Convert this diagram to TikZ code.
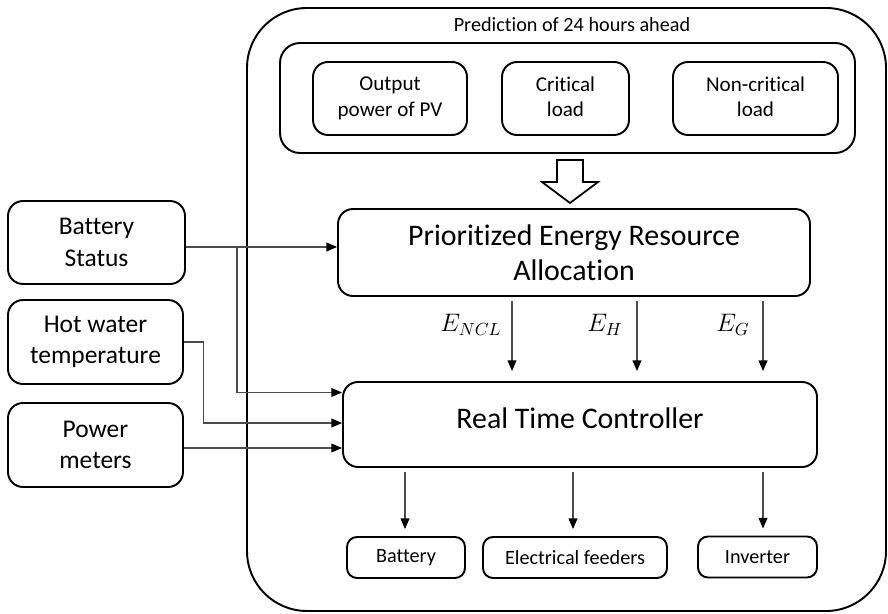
\documentclass[tikz,border=0pt]{standalone}
\usepackage{fontspec}
\setmainfont{Carlito}[Ligatures=NoCommon]
\usetikzlibrary{arrows.meta}
\begin{document}
\begin{tikzpicture}[
    box/.style = {draw, line width=1.1pt, rounded corners=0.3cm, align=center, inner sep=0pt},
    arr/.style = {draw=black!70, line width=0.6pt, -{Triangle[length=6pt,width=5pt,color=black]}}
  ]
    \useasboundingbox (0,0) rectangle (17.76,-12.28);
    \begin{scope}
      \def\radius{1.2cm}
      \node[box, rounded corners=\radius, minimum width=12.78cm, minimum height=12.06cm] (outer) at (11.33,-6.19) {};
      \node[font=\fontsize{11.5}{14}\selectfont] (title) at (11.44,-0.5) {Prediction of 24 hours ahead};
      \node[box, rounded corners=0.4cm, minimum width=11.5cm, minimum height=2.2cm] (pred) at (11.35,-1.96) {};
      \node[box, minimum width=3.08cm, minimum height=1.46cm, font=\fontsize{12}{14.5}\selectfont] (pv) at (7.8,-1.97) {Output\\power of PV};
      \node[box, minimum width=2.54cm, minimum height=1.46cm, font=\fontsize{12}{14.5}\selectfont, text depth=0.08cm] (crit) at (11.31,-1.97) {Critical\\load};
      \node[box, minimum width=3.3cm, minimum height=1.46cm, font=\fontsize{12}{14.5}\selectfont, text depth=0.08cm] (noncrit) at (15.11,-1.97) {Non-critical\\load};
    \end{scope}
    \draw[line width=1pt, fill=white] (11.14,-3.2) -- (11.66,-3.2) -- (11.66,-3.64) -- (11.96,-3.64)
      -- (11.4,-4.06) -- (10.84,-3.64) -- (11.14,-3.64) -- cycle;
    \node[box, minimum width=9.44cm, minimum height=1.74cm, font=\fontsize{17}{20}\selectfont] (pera) at (11.48,-5.05) {Prioritized Energy Resource\\Allocation};
    \node[box, minimum width=9.48cm, minimum height=1.7cm, font=\fontsize{17}{20}\selectfont, text depth=0.26cm] (rtc) at (11.6,-8.49) {Real Time Controller};
    \node[box, minimum width=2.36cm, minimum height=0.82cm, rounded corners=0.2cm, font=\fontsize{11.5}{14}\selectfont] (batt) at (8.12,-11.15) {Battery};
    \node[box, minimum width=3.68cm, minimum height=0.82cm, rounded corners=0.2cm, font=\fontsize{11.5}{14}\selectfont] (feed) at (11.5,-11.15) {Electrical feeders};
    \node[box, minimum width=2.38cm, minimum height=0.82cm, rounded corners=0.2cm, font=\fontsize{11.5}{14}\selectfont] (inv) at (15.15,-11.14) {Inverter};
    \node[box, minimum width=3.54cm, minimum height=1.66cm, font=\fontsize{14.5}{18}\selectfont] (bstat) at (1.93,-4.85) {Battery\\Status};
    \node[box, minimum width=3.5cm, minimum height=1.68cm, font=\fontsize{14.5}{18}\selectfont] (hotw) at (1.91,-6.84) {Hot water\\temperature};
    \node[box, minimum width=3.5cm, minimum height=1.68cm, font=\fontsize{14.5}{18}\selectfont] (pmet) at (1.91,-8.9) {Power\\meters};
    \node[font=\fontsize{14}{16}\selectfont] (encl) at (9.42,-6.5) {$E_{NCL}$};
    \node[font=\fontsize{14}{16}\selectfont] (eh) at (12.1,-6.5) {$E_{H}$};
    \node[font=\fontsize{14}{16}\selectfont] (eg) at (14.66,-6.5) {$E_{G}$};
    \coordinate (bsplit) at (4.74,-4.94);
    \draw[arr] (bstat.east |- bsplit) -- (pera.west |- bsplit);
    \draw[arr] (bsplit) |- ([yshift=0.64cm]rtc.west);
    \draw[arr] (hotw.east) -- ++(0.4,0) |- ([yshift=0.03cm]rtc.west);
    \draw[arr] (pmet.east |- 0,-8.96) -- (rtc.west |- 0,-8.96);
    \draw[arr, shorten <=0.08cm, shorten >=0.2cm] (pera.south -| 10.24,0) -- (rtc.north -| 10.24,0);
    \draw[arr, shorten <=0.08cm, shorten >=0.2cm] (pera.south -| 12.74,0) -- (rtc.north -| 12.74,0);
    \draw[arr, shorten <=0.08cm, shorten >=0.2cm] (pera.south -| 15.26,0) -- (rtc.north -| 15.26,0);
    \draw[arr, shorten <=0.08cm, shorten >=0.14cm] (rtc.south -| 8.1,0) -- (batt.north -| 8.1,0);
    \draw[arr, shorten <=0.08cm, shorten >=0.14cm] (rtc.south -| 11.46,0) -- (feed.north -| 11.46,0);
    \draw[arr, shorten <=0.08cm, shorten >=0.14cm] (rtc.south -| 15.26,0) -- (inv.north -| 15.26,0);
\end{tikzpicture}
\end{document}
